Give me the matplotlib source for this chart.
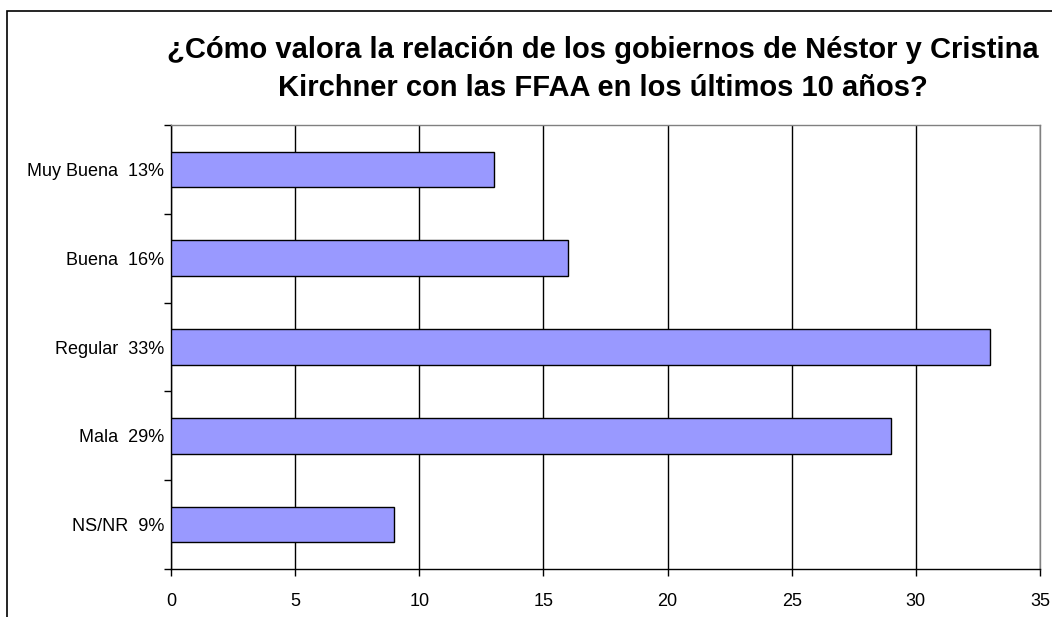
import numpy as np
import matplotlib.pyplot as plt
from matplotlib.patches import Rectangle

plt.rcParams['font.family'] = ['Liberation Sans', 'DejaVu Sans']

categories = ['Muy Buena  13%', 'Buena  16%', 'Regular  33%', 'Mala  29%', 'NS/NR  9%']
values = [13, 16, 33, 29, 9]
xticks = [0, 5, 10, 15, 20, 25, 30, 35]

fig = plt.figure(figsize=(10.52, 6.17), dpi=100)
# outer chart frame (only top and left visible in the reference)
fig.patches.append(Rectangle((7 / 1052, -0.1), 1.2, 1 - 11 / 617 + 0.1,
                             transform=fig.transFigure, fill=False,
                             edgecolor='black', linewidth=1.2))

ax = fig.add_axes([171 / 1052, 1 - 569 / 617, (1040 - 171) / 1052, (569 - 125) / 617])

y = np.arange(len(categories))
ax.barh(y, values, height=0.4, color='#9999FF', edgecolor='black', linewidth=1, zorder=3)

ax.set_xlim(0, 35)
ax.set_ylim(len(categories) - 0.5, -0.5)
ax.set_xticks(xticks)
ax.set_xticklabels([str(t) for t in xticks], fontsize=13)
ax.set_yticks(y)
ax.set_yticklabels(categories, fontsize=13)
ax.set_yticks(np.arange(-0.5, len(categories)), minor=True)
ax.tick_params(axis='y', which='major', length=0, pad=5)
ax.tick_params(axis='y', which='minor', length=5, width=1, color='black')
ax.tick_params(axis='x', length=5, width=1, pad=12)
ax.grid(axis='x', color='black', linewidth=1, zorder=0)

for s in ['left', 'bottom']:
    ax.spines[s].set_color('black')
    ax.spines[s].set_linewidth(1)
for s in ['top', 'right']:
    ax.spines[s].set_color('#808080')
    ax.spines[s].set_linewidth(1)

fig.text(603 / 1052, 1 - 69 / 617,
         '¿Cómo valora la relación de los gobiernos de Néstor y Cristina\nKirchner con las FFAA en los últimos 10 años?',
         ha='center', va='center', fontsize=21, fontweight='bold', linespacing=1.45)

fig.savefig('out.png', dpi=100)
